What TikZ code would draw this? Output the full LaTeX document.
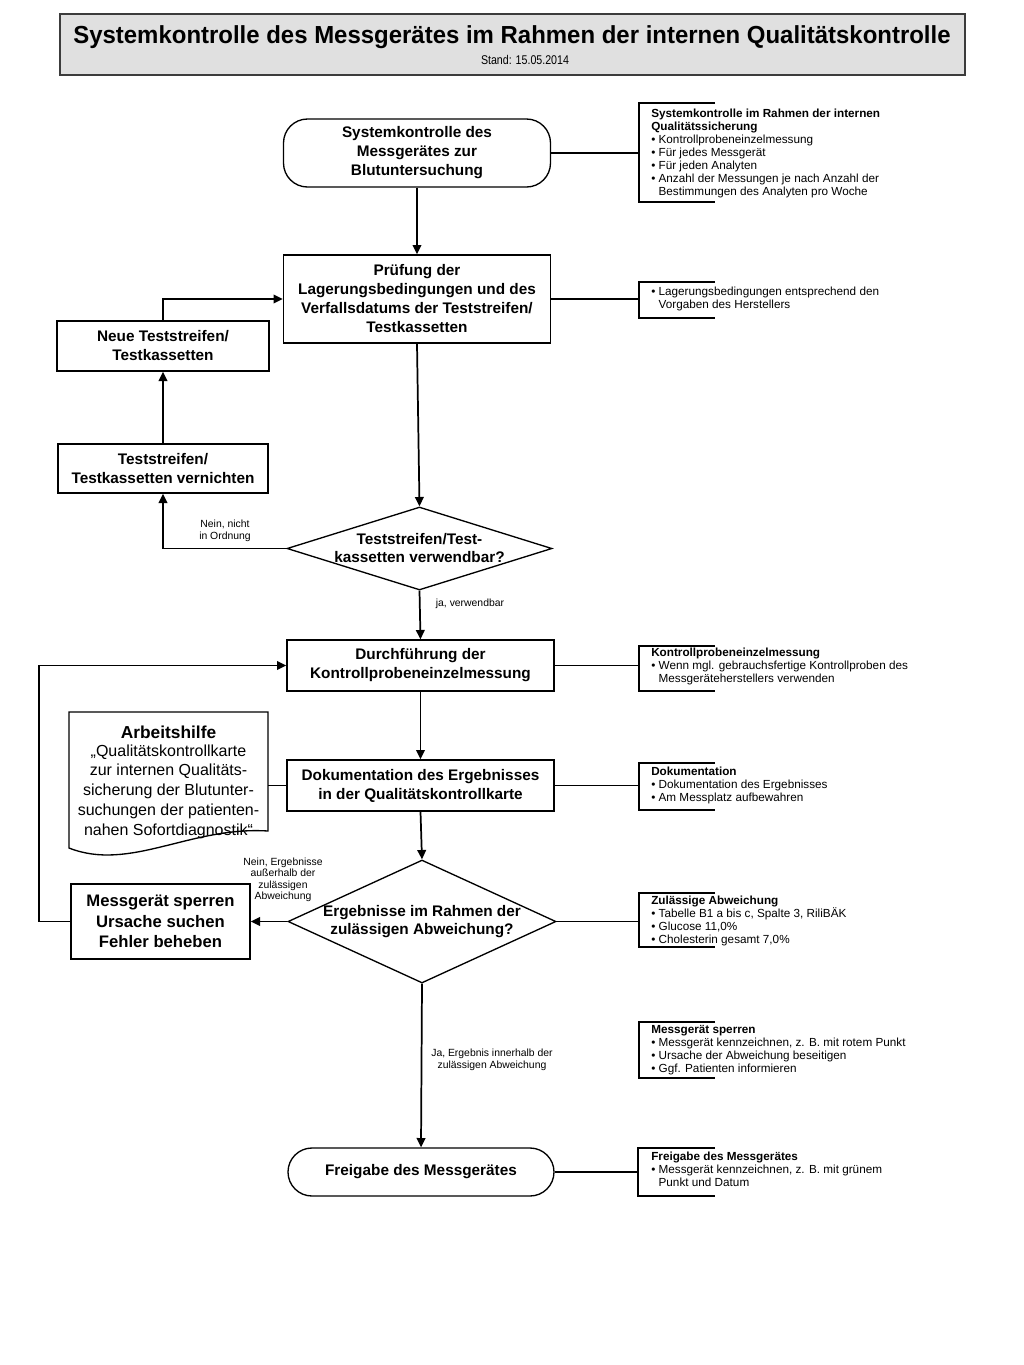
\documentclass[tikz,border=0pt]{standalone}
\usepackage{fontspec}
\setmainfont{Liberation Sans}
\usepackage{graphicx}
\usetikzlibrary{arrows.meta,shapes.geometric}
\definecolor{titlefill}{RGB}{224,224,224}
\definecolor{titledraw}{RGB}{60,60,60}
\newcommand\myind{\phantom{•\ }}
\begin{document}
\begin{tikzpicture}[x=0.75pt,y=-0.75pt,
  box/.style={draw, line width=1pt, align=center, inner sep=2pt,
    font=\fontsize{11.5}{14.25}\selectfont\bfseries},
  term/.style={box, rounded corners=18pt},
  dia/.style={draw, diamond, line width=1pt, inner sep=0pt},
  diatext/.style={font=\fontsize{11.5}{13.5}\selectfont\bfseries, align=center, inner sep=0pt},
  note/.style={anchor=north west, inner sep=0pt, align=left, font=\fontsize{8.8}{9.75}\selectfont},
  brk/.style={line width=1pt},
  elabel/.style={font=\fontsize{7.8}{8.6}\selectfont, align=center, inner sep=0pt},
  conn/.style={line width=1.3pt},
  thinconn/.style={line width=0.9pt},
  arr/.style={conn, -{Triangle[length=7pt,width=6.5pt]}}]
\useasboundingbox (0,0) rectangle (1024,1365);

% title
\node[draw=titledraw, fill=titlefill, line width=1.5pt, minimum width=678.75pt, minimum height=45.75pt] (title) at (512.5,44.5) {};
\node[inner sep=0pt] (t1) at (512,37) {\resizebox{658pt}{\height}{\fontsize{18.5}{21}\selectfont\bfseries Systemkontrolle des Messgerätes im Rahmen der internen Qualitätskontrolle}};
\node[inner sep=0pt] (t2) at (525,60) {\resizebox{66pt}{\height}{\fontsize{9.5}{10}\selectfont Stand: 15.05.2014}};

% main column
\node[term, minimum width=200.25pt, minimum height=51pt] (start) at (417,153) {Systemkontrolle des\\Messgerätes zur\\Blutuntersuchung};
\node[box, minimum width=200.25pt, minimum height=66pt] (pruef) at (417,299) {Prüfung der\\Lagerungsbedingungen und des\\Verfallsdatums der Teststreifen/\\Testkassetten};
\node[box, minimum width=159pt, minimum height=37.5pt] (neue) at (163,346) {Neue Teststreifen/\\Testkassetten};
\node[box, minimum width=157.5pt, minimum height=36.75pt] (vern) at (163,468.5) {Teststreifen/\\Testkassetten vernichten};
\node[dia, minimum width=198.75pt, minimum height=62.25pt,
  label={[diatext]center:{Teststreifen/Test-\\kassetten verwendbar?}}] (d1) at (419.5,548.5) {};
\node[box, minimum width=200.25pt, minimum height=38.25pt] (dur) at (420.5,665.5) {Durchführung der\\Kontrollprobeneinzelmessung};
\node[box, minimum width=200.25pt, minimum height=38.25pt] (dok) at (420.5,785.5) {Dokumentation des Ergebnisses\\in der Qualitätskontrollkarte};
\node[dia, minimum width=201pt, minimum height=92.25pt,
  label={[diatext]center:{Ergebnisse im Rahmen der\\zulässigen Abweichung?}}] (d2) at (422,921.5) {};
\node[box, font=\fontsize{12.5}{15.4}\selectfont\bfseries, minimum width=134.25pt, minimum height=56.25pt] (sperr) at (160.5,921.5) {Messgerät sperren\\Ursache suchen\\Fehler beheben};
\node[term, minimum width=199.5pt, minimum height=36pt] (frei) at (421,1172) {Freigabe des Messgerätes};

% document shape
\draw[line width=1pt] (69,712) -- (268,712) -- (268,831) .. controls (190,826) and (130,872) .. (69,848) -- cycle;
\node[inner sep=0pt, font=\fontsize{13}{15}\selectfont\bfseries] (arbT) at (168.5,732) {Arbeitshilfe};
\node[inner sep=0pt, align=center, font=\fontsize{12}{14.8}\selectfont] (arb) at (168.5,791.5) {„Qualitätskontrollkarte\\zur internen Qualitäts-\\sicherung der Blutunter-\\suchungen der patienten-\\nahen Sofortdiagnostik“};
\coordinate (arbR) at (268,785.5);
\draw[thinconn] (arbR) -- (dok.west);

% connectors
\draw[arr] (start.south) -- (pruef.north);
\draw[arr] (pruef.south) -- (d1.north);
\draw[arr] (d1.west) -| (vern.south);
\draw[arr] (vern.north) -- (neue.south);
\draw[arr] (neue.north) |- (pruef.west);
\draw[arr] (d1.south) -- (dur.north);
\draw[arr] (dur.south) -- (dok.north);
\draw[arr] (dok.south) -- (d2.north);
\draw[arr] (d2.west) -- (sperr.east);
\draw[arr] (sperr.west) -- ++(-31,0) |- (dur.west);
\draw[arr] (d2.south) -- (frei.north);

% edge labels
\node[elabel] (lnein1) at (225,531) {Nein, nicht\\in Ordnung};
\node[elabel] (lja1) at (470,604) {ja, verwendbar};
\node[elabel] (lnein2) at (283,880) {Nein, Ergebnisse\\außerhalb der\\zulässigen\\Abweichung};
\node[elabel] (lja2) at (492,1060) {Ja, Ergebnis innerhalb der\\zulässigen Abweichung};

% annotations
\draw[brk] (715,103) -- (639,103) -- (639,202) -- (715,202);
\coordinate (a1) at (639,153);
\draw[thinconn] (start.east) -- (a1);
\node[note] (n1) at (651,109) {\textbf{Systemkontrolle im Rahmen der internen}\\\textbf{Qualitätssicherung}\\• Kontrollprobeneinzelmessung\\• Für jedes Messgerät\\• Für jeden Analyten\\• Anzahl der Messungen je nach Anzahl der\\\myind Bestimmungen des Analyten pro Woche};

\draw[brk] (715,282) -- (639,282) -- (639,318) -- (715,318);
\coordinate (a2) at (639,299);
\draw[thinconn] (pruef.east) -- (a2);
\node[note] (n2) at (651,287) {• Lagerungsbedingungen entsprechend den\\\myind Vorgaben des Herstellers};

\draw[brk] (715,646) -- (639,646) -- (639,691) -- (715,691);
\coordinate (a3) at (639,665.5);
\draw[thinconn] (dur.east) -- (a3);
\node[note] (n3) at (651,648) {\textbf{Kontrollprobeneinzelmessung}\\• Wenn mgl. gebrauchsfertige Kontrollproben des\\\myind Messgeräteherstellers verwenden};

\draw[brk] (715,763) -- (639,763) -- (639,810) -- (715,810);
\coordinate (a4) at (639,785.5);
\draw[thinconn] (dok.east) -- (a4);
\node[note] (n4) at (651,767) {\textbf{Dokumentation}\\• Dokumentation des Ergebnisses\\• Am Messplatz aufbewahren};

\draw[brk] (715,893) -- (639,893) -- (639,947) -- (715,947);
\coordinate (a5) at (639,921.5);
\draw[thinconn] (d2.east) -- (a5);
\node[note] (n5) at (651,896) {\textbf{Zulässige Abweichung}\\• Tabelle B1 a bis c, Spalte 3, RiliBÄK\\• Glucose 11,0\%\\• Cholesterin gesamt 7,0\%};

\draw[brk] (715,1022) -- (639,1022) -- (639,1078) -- (715,1078);
\node[note] (n6) at (651,1025) {\textbf{Messgerät sperren}\\• Messgerät kennzeichnen, z. B. mit rotem Punkt\\• Ursache der Abweichung beseitigen\\• Ggf. Patienten informieren};

\draw[brk] (715,1148) -- (638,1148) -- (638,1196) -- (715,1196);
\coordinate (a7) at (638,1172);
\draw[thinconn] (frei.east) -- (a7);
\node[note] (n7) at (651,1152) {\textbf{Freigabe des Messgerätes}\\• Messgerät kennzeichnen, z. B. mit grünem\\\myind Punkt und Datum};
\end{tikzpicture}
\end{document}
